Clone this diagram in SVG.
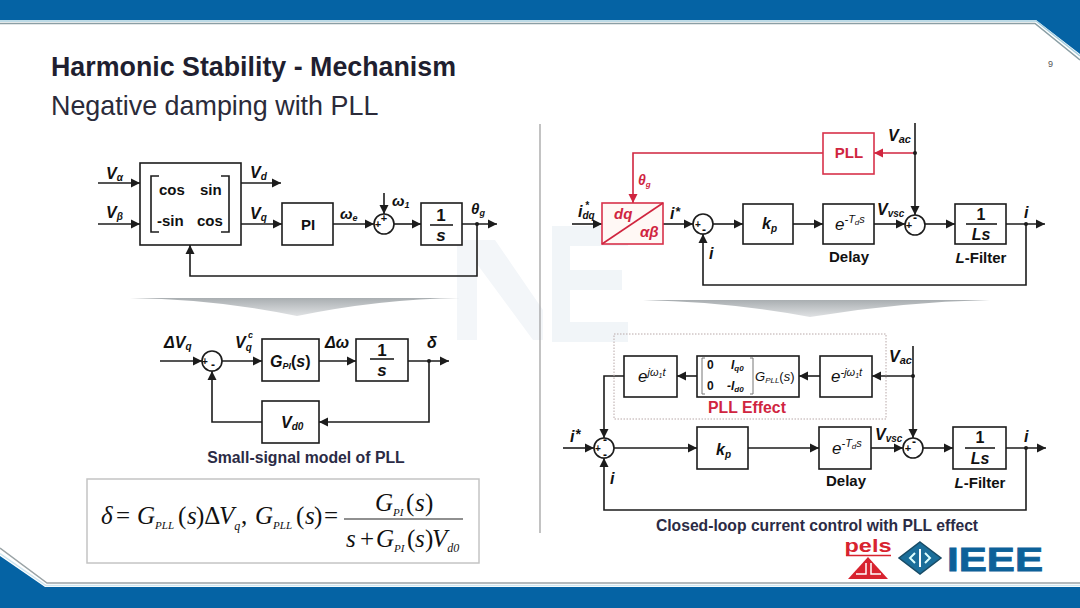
<svg xmlns="http://www.w3.org/2000/svg" width="1080" height="608" viewBox="0 0 1080 608">
<style>
.s{font-family:"Liberation Sans",Arial,sans-serif;fill:#111}
.b{font-weight:700}
.i{font-style:italic;font-weight:700}
.t{font-family:"Liberation Serif","Times New Roman",serif;fill:#111;font-style:italic;font-size:25px}
.tn{font-family:"Liberation Serif","Times New Roman",serif;fill:#111;font-size:25px}
.box{fill:#fff;stroke:#1c1c1c;stroke-width:1.6}
.rbox{fill:#fff;stroke:#d8314a;stroke-width:1.6}
.l{fill:none;stroke:#1c1c1c;stroke-width:1.6}
.a{marker-end:url(#ah)}
.r{fill:none;stroke:#d0253f;stroke-width:1.6}
.ra{marker-end:url(#rh)}
.red{fill:#d0253f}
</style>
<defs>
<marker id="ah" markerUnits="userSpaceOnUse" markerWidth="10" markerHeight="10" refX="9" refY="5" orient="auto"><path d="M0 0.500L9 5L0 9.500z" fill="#1c1c1c"/></marker>
<marker id="rh" markerUnits="userSpaceOnUse" markerWidth="10" markerHeight="10" refX="9" refY="5" orient="auto"><path d="M0 0.500L9 5L0 9.500z" fill="#d0253f"/></marker>
<linearGradient id="w" x1="0" y1="0" x2="0" y2="1"><stop offset="0" stop-color="#a9aeb1"/><stop offset="1" stop-color="#e0e2e4"/></linearGradient>
</defs>
<rect width="1080" height="608" fill="#fff"/>
<g id="watermark">
<path d="M457 240h20v100h-20zM477 240h18l48 70v30h-10l-56-76z" fill="#f3f6f9"/>
<path d="M552 226h76v20h-58v24h52v20h-52v32h58v20h-76z" fill="#f1f5f8"/>
</g>
<g id="header">
<path d="M0 0H1080V54L1036 20H0z" fill="#0563a4"/>
<path d="M0 21H1036L1080 56" fill="none" stroke="#a8d0e0" stroke-width="1.500"/>
<path d="M0 23.500H1035L1080 60" fill="none" stroke="#8a9ea4" stroke-width="1.500"/>
</g>
<g id="footer">
<path d="M0 556L45 587H1080V608H0z" fill="#0563a4"/>
<path d="M0 553.500L46 585.500H1080" fill="none" stroke="#cfe6f0" stroke-width="1.500"/>
<path d="M0 548L47 583H1080" fill="none" stroke="#9aa3a6" stroke-width="1.500"/>
</g>
<g id="titles">
<text class="s b" x="51" y="76" font-size="26.800" style="fill:#1f1f30">Harmonic Stability - Mechanism</text>
<text class="s" x="51" y="115" font-size="26.900" style="fill:#2b2b3a">Negative damping with PLL</text>
<text class="s" x="1048" y="67" font-size="9" style="fill:#555">9</text>
</g>
<path id="divider" d="M540 124V533" stroke="#9a9a9a" stroke-width="1.200"/>
<path id="wedge-left" d="M130 298Q215 299 297 316Q380 299 460 298z" fill="url(#w)"/>
<path id="wedge-right" d="M643 300Q730 302 810 317Q900 302 990 300z" fill="url(#w)"/>

<g id="connectors">
<path class="l a" d="M98 183H140"/><path class="l a" d="M98 224H140"/>
<path class="l a" d="M241 183H281"/><path class="l a" d="M241 224H282"/>
<path class="l a" d="M333 224H374"/><path class="l a" d="M384 193V214"/>
<path class="l a" d="M394 224H421"/><path class="l a" d="M462 224H497"/>
<path class="l a" d="M477 224V276H190V245"/>

<path class="l a" d="M160 361H202"/><path class="l a" d="M222 361H262"/>
<path class="l a" d="M319 361H356"/><path class="l a" d="M408 361H449"/>
<path class="l a" d="M429 361V422H319"/><path class="l a" d="M262 422H212V371"/>

<path class="l a" d="M572 224H602"/><path class="l a" d="M663 224H693"/>
<path class="l a" d="M713 224H743"/><path class="l a" d="M793 224H823"/>
<path class="l a" d="M874 224H905"/><path class="l a" d="M925 224H955"/>
<path class="l a" d="M1006 224H1045"/><path class="l a" d="M1026 224V285H703V234"/>
<path class="l a" d="M915 123V215"/>
<path class="r ra" d="M915 153H874"/><path class="r ra" d="M823 153H633V203"/>

<path class="l a" d="M913 346V438"/><path class="l a" d="M913 376H872"/>
<path class="l a" d="M820 376H799"/><path class="l a" d="M697 376H677"/>
<path class="l a" d="M624 376H604V438"/>
<path class="l a" d="M563 448H594"/><path class="l a" d="M614 448H697"/>
<path class="l a" d="M748 448H819"/><path class="l a" d="M871 448H903"/>
<path class="l a" d="M923 448H953"/><path class="l a" d="M1006 448H1046"/>
<path class="l a" d="M1026 448V510H604V458"/>
<g fill="#1c1c1c"><circle cx="477" cy="224" r="2"/><circle cx="429" cy="361" r="2"/><circle cx="1026" cy="224" r="2"/><circle cx="915" cy="153" r="2"/><circle cx="913" cy="376" r="2"/><circle cx="1026" cy="448" r="2"/></g>
</g>

<g id="park">
<rect class="box" x="140" y="163" width="101" height="82"/>
<path class="l" d="M159 176H151V232H159M221 176H229V232H221"/>
<text class="s b" x="159" y="195" font-size="15">cos</text><text class="s b" x="200" y="195" font-size="15">sin</text>
<text class="s b" x="157" y="226" font-size="15">-sin</text><text class="s b" x="197" y="226" font-size="15">cos</text>
</g>
<g id="pi"><rect class="box" x="282" y="203" width="51" height="42"/><text class="s b" x="308" y="230" font-size="15" text-anchor="middle">PI</text></g>
<g id="sum1"><circle class="box" cx="384" cy="224" r="10"/><text class="s b" x="378" y="228" font-size="11" text-anchor="middle">+</text><text class="s b" x="384" y="222" font-size="11" text-anchor="middle">+</text></g>
<g id="int1"><rect class="box" x="421" y="203" width="41" height="42"/><path class="l" d="M430 225H453"/><text class="s b" x="441" y="221" font-size="17" text-anchor="middle">1</text><text class="s i" x="441" y="241" font-size="17" text-anchor="middle">s</text></g>
<g id="labels-top-left">
<text class="s i" x="106" y="179" font-size="16">V<tspan font-size="10" dy="2">α</tspan></text>
<text class="s i" x="106" y="218" font-size="16">V<tspan font-size="10" dy="2">β</tspan></text>
<text class="s i" x="250" y="178" font-size="16">V<tspan font-size="10" dy="2">d</tspan></text>
<text class="s i" x="250" y="219" font-size="16">V<tspan font-size="10" dy="2">q</tspan></text>
<text class="s i" x="340" y="219" font-size="15">ω<tspan font-size="9" dy="2">e</tspan></text>
<text class="s i" x="392" y="206" font-size="15">ω<tspan font-size="9" dy="2">1</tspan></text>
<text class="s i" x="471" y="214" font-size="15">θ<tspan font-size="9" dy="2">g</tspan></text>
</g>

<g id="sum2"><circle class="box" cx="212" cy="361" r="10"/><text class="s b" x="205" y="365" font-size="10" text-anchor="middle">+</text><text class="s b" x="213" y="369" font-size="12" text-anchor="middle">-</text></g>
<g id="gpi"><rect class="box" x="262" y="339" width="57" height="42"/><text class="s i" x="270" y="367" font-size="16">G<tspan font-size="9" dy="2">PI</tspan><tspan font-style="normal" dy="-2">(</tspan>s<tspan font-style="normal">)</tspan></text></g>
<g id="int2"><rect class="box" x="356" y="339" width="52" height="42"/><path class="l" d="M370 359H394"/><text class="s b" x="382" y="356" font-size="17" text-anchor="middle">1</text><text class="s i" x="382" y="376" font-size="17" text-anchor="middle">s</text></g>
<g id="vd0"><rect class="box" x="262" y="401" width="57" height="42"/><text class="s i" x="281" y="428" font-size="16">V<tspan font-size="10" dy="2">d0</tspan></text></g>
<g id="labels-mid-left">
<text class="s i" x="164" y="348" font-size="16">ΔV<tspan font-size="10" dy="2">q</tspan></text>
<text class="s i" x="235" y="348" font-size="16">V<tspan font-size="10" dy="3">q</tspan></text><text class="s i" x="248" y="338" font-size="9">c</text>
<text class="s i" x="325" y="348" font-size="16">Δω</text>
<text class="s i" x="427" y="348" font-size="16">δ</text>
<text class="s b" x="306" y="463" font-size="15.800" text-anchor="middle" style="fill:#2b2b45">Small-signal model of PLL</text>
</g>
<g id="equation">
<rect x="87" y="479" width="392" height="84" fill="#fff" stroke="#c4c4c4" stroke-width="1.500"/>
<text class="t" x="101" y="524">δ</text><text class="tn" x="116" y="524">=</text>
<text class="t" x="137" y="524">G<tspan font-size="11" dy="5">PLL</tspan></text><text class="tn" x="178" y="524">(</text><text class="t" x="187" y="524">s</text><text class="tn" x="196" y="524">)Δ</text><text class="t" x="219" y="524">V<tspan font-size="12" dy="6">q</tspan></text><text class="tn" x="241" y="524">,</text>
<text class="t" x="255" y="524">G<tspan font-size="11" dy="5">PLL</tspan></text><text class="tn" x="296" y="524">(</text><text class="t" x="305" y="524">s</text><text class="tn" x="314" y="524">)</text><text class="tn" x="324" y="524">=</text>
<path d="M344 519H463" stroke="#222" stroke-width="1.200"/>
<text class="t" x="375" y="511">G<tspan font-size="11" dy="5">PI</tspan></text><text class="tn" x="406" y="511">(</text><text class="t" x="415" y="511">s</text><text class="tn" x="425" y="511">)</text>
<text class="t" x="346" y="547">s</text><text class="tn" x="360" y="547">+</text><text class="t" x="376" y="547">G<tspan font-size="11" dy="5">PI</tspan></text><text class="tn" x="407" y="547">(</text><text class="t" x="415" y="547">s</text><text class="tn" x="425" y="547">)</text><text class="t" x="432" y="547">V<tspan font-size="12" dy="5">d0</tspan></text>
</g>

<g id="pll"><rect class="rbox" x="823" y="133" width="51" height="41"/><text class="s b" x="849" y="158" font-size="15" text-anchor="middle" style="fill:#d0253f">PLL</text></g>
<g id="dqab"><rect class="rbox" x="602" y="203" width="61" height="41" style="fill:#fff8f5"/><path class="r" d="M602 244L663 203"/><text class="i red" font-family="Liberation Sans" x="614" y="219" font-size="15">dq</text><text class="i red" font-family="Liberation Sans" x="640" y="237" font-size="15">αβ</text></g>
<g id="kp1"><rect class="box" x="743" y="204" width="50" height="40"/><text class="s i" x="762" y="229" font-size="16">k<tspan font-size="10" dy="3">p</tspan></text></g>
<g id="delay1"><rect class="box" x="823" y="204" width="51" height="40"/><text class="s" x="835" y="230" font-size="17" font-style="italic">e<tspan font-size="11" dy="-7">-T</tspan><tspan font-size="8" dy="2">d</tspan><tspan font-size="11" dy="-2">s</tspan></text></g>
<g id="sum3"><circle class="box" cx="703" cy="224" r="10"/><text class="s b" x="698" y="228" font-size="10" text-anchor="middle">+</text><text class="s b" x="704" y="234" font-size="12" text-anchor="middle">-</text></g>
<g id="sum4"><circle class="box" cx="915" cy="225" r="10"/><text class="s b" x="909" y="229" font-size="11" text-anchor="middle">+</text><text class="s b" x="915" y="222" font-size="12" text-anchor="middle">-</text></g>
<g id="filter1"><rect class="box" x="955" y="204" width="51" height="40"/><path class="l" d="M966 224H997"/><text class="s b" x="981" y="220" font-size="16" text-anchor="middle">1</text><text class="s i" x="981" y="240" font-size="16" text-anchor="middle">Ls</text></g>
<g id="labels-top-right">
<text class="s i" x="888" y="141" font-size="16">V<tspan font-size="11" dy="2">ac</tspan></text>
<text class="i red" font-family="Liberation Sans" x="638" y="185" font-size="14">θ<tspan font-size="8" dy="2">g</tspan></text>
<text class="s i" x="578" y="217" font-size="16">i<tspan font-size="10" dy="2">dq</tspan></text><text class="s i" x="585" y="209" font-size="10">*</text>
<text class="s i" x="670" y="219" font-size="16">i</text><text class="s i" x="675" y="216" font-size="13">*</text>
<text class="s i" x="709" y="259" font-size="16">i</text>
<text class="s i" x="877" y="215" font-size="16">V<tspan font-size="10" dy="2">vsc</tspan></text>
<text class="s i" x="1024" y="218" font-size="16">i</text>
<text class="s b" x="849" y="262" font-size="15" text-anchor="middle">Delay</text>
<text class="s b" x="981" y="263" font-size="15" text-anchor="middle"><tspan font-style="italic">L</tspan>-Filter</text>
</g>

<rect id="pll-effect-frame" x="614" y="334" width="272" height="85" fill="none" stroke="#b8a8a8" stroke-width="1" stroke-dasharray="1.500 1.500"/>
<g id="ejw"><rect class="box" x="624" y="356" width="53" height="41"/><text class="s" x="638" y="382" font-size="17" font-style="italic">e<tspan font-size="11" dy="-6">jω</tspan><tspan font-size="7" dy="2">1</tspan><tspan font-size="11" dy="-2">t</tspan></text></g>
<g id="matrix"><rect class="box" x="697" y="356" width="102" height="41"/>
<path d="M705 358H702V394H705M750 358H753V394H750" fill="none" stroke="#777" stroke-width="1"/>
<text class="s b" x="707" y="369" font-size="12">0</text><text class="s b" x="707" y="390" font-size="12">0</text>
<text class="s i" x="731" y="369" font-size="12">I<tspan font-size="8" dy="2">q0</tspan></text><text class="s i" x="727" y="390" font-size="12">-I<tspan font-size="8" dy="2">d0</tspan></text>
<text class="s" x="755" y="381" font-size="13" font-style="italic">G<tspan font-size="8" dy="2">PLL</tspan><tspan font-style="normal" dy="-2">(</tspan>s<tspan font-style="normal">)</tspan></text></g>
<g id="emjw"><rect class="box" x="820" y="356" width="52" height="41"/><text class="s" x="831" y="382" font-size="17" font-style="italic">e<tspan font-size="11" dy="-6">-jω</tspan><tspan font-size="7" dy="2">1</tspan><tspan font-size="11" dy="-2">t</tspan></text></g>
<g id="kp2"><rect class="box" x="697" y="427" width="51" height="42"/><text class="s i" x="716" y="455" font-size="16">k<tspan font-size="10" dy="3">p</tspan></text></g>
<g id="delay2"><rect class="box" x="819" y="427" width="52" height="42"/><text class="s" x="832" y="454" font-size="17" font-style="italic">e<tspan font-size="11" dy="-7">-T</tspan><tspan font-size="8" dy="2">d</tspan><tspan font-size="11" dy="-2">s</tspan></text></g>
<g id="sum5"><circle class="box" cx="604" cy="448" r="10"/><text class="s b" x="598" y="452" font-size="10" text-anchor="middle">+</text><text class="s b" x="605" y="444" font-size="12" text-anchor="middle">-</text><text class="s b" x="605" y="459" font-size="12" text-anchor="middle">-</text></g>
<g id="sum6"><circle class="box" cx="913" cy="448" r="10"/><text class="s b" x="908" y="452" font-size="11" text-anchor="middle">+</text><text class="s b" x="914" y="446" font-size="12" text-anchor="middle">-</text></g>
<g id="filter2"><rect class="box" x="953" y="427" width="53" height="42"/><path class="l" d="M965 448H995"/><text class="s b" x="980" y="443" font-size="16" text-anchor="middle">1</text><text class="s i" x="980" y="464" font-size="16" text-anchor="middle">Ls</text></g>
<g id="labels-bottom-right">
<text class="s i" x="889" y="362" font-size="16">V<tspan font-size="11" dy="2">ac</tspan></text>
<text class="s b" x="747" y="413" font-size="15.800" text-anchor="middle" style="fill:#d0253f">PLL Effect</text>
<text class="s i" x="570" y="442" font-size="16">i</text><text class="s i" x="575" y="439" font-size="14">*</text>
<text class="s i" x="610" y="484" font-size="16">i</text>
<text class="s i" x="875" y="440" font-size="16">V<tspan font-size="10" dy="2">vsc</tspan></text>
<text class="s i" x="1024" y="442" font-size="16">i</text>
<text class="s b" x="846" y="486" font-size="15" text-anchor="middle">Delay</text>
<text class="s b" x="980" y="488" font-size="15" text-anchor="middle"><tspan font-style="italic">L</tspan>-Filter</text>
<text class="s b" x="817" y="531" font-size="15.700" text-anchor="middle" style="fill:#2b2b45">Closed-loop current control with PLL effect</text>
</g>
<g id="logos">
<text x="868" y="552" font-family="Liberation Sans" font-weight="700" font-size="18" fill="#d8232f" text-anchor="middle" textLength="47" lengthAdjust="spacingAndGlyphs">pels</text>
<path d="M846 555.500H891" stroke="#d8232f" stroke-width="1.500"/>
<path d="M868 557L888 579H848z" fill="#d8232f"/>
<path d="M856 574H866V563M871 563V574H881" fill="none" stroke="#fff" stroke-width="1.500"/>
<path d="M920 542L941 558L920 574L899 558z" fill="#1b6e9a" stroke="#174b66" stroke-width="1.500"/>
<path d="M920 549V567" stroke="#fff" stroke-width="2"/><path d="M915 553L910 558L915 563M925 553L930 558L925 563" fill="none" stroke="#dff" stroke-width="2"/>
<text x="947" y="571" font-family="Liberation Sans" font-weight="700" font-size="33" fill="#0d6199" stroke="#0d6199" stroke-width="0.800" textLength="96" lengthAdjust="spacingAndGlyphs">IEEE</text>
</g>
</svg>
